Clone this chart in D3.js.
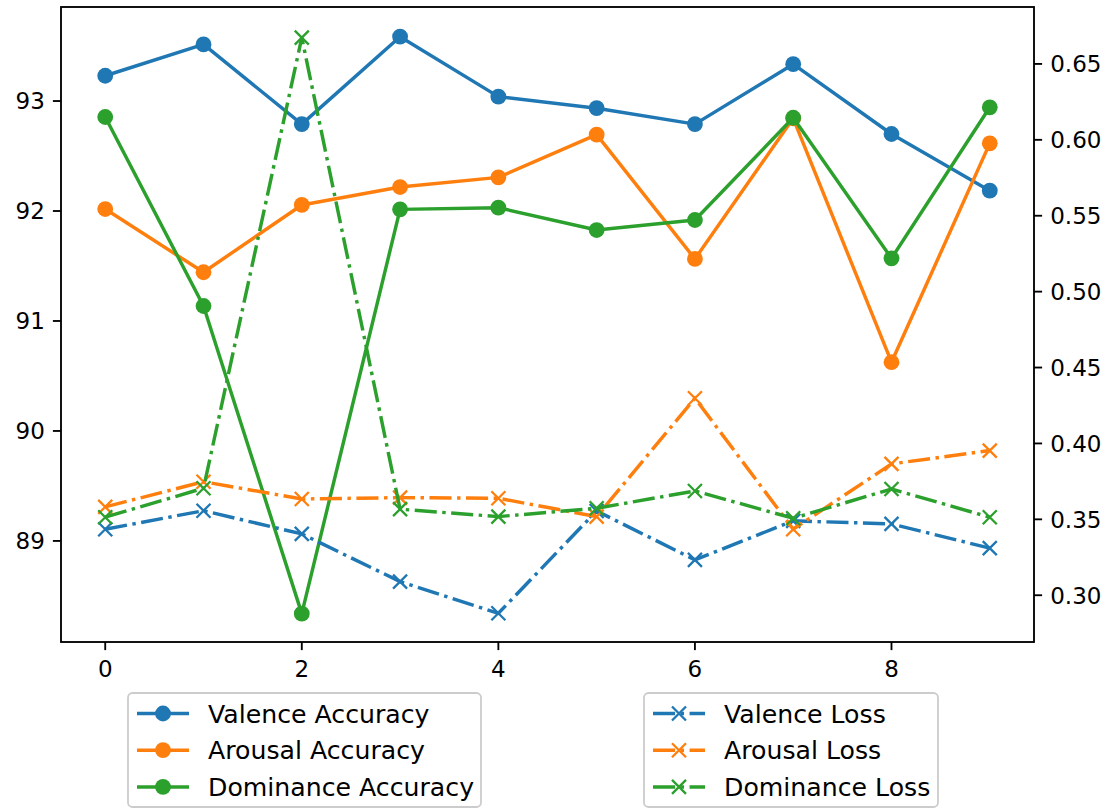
<!DOCTYPE html>
<html>
<head>
<meta charset="utf-8">
<script src="https://cdn.jsdelivr.net/npm/d3@7"></script>
<style>
  html, body { margin: 0; padding: 0; background: #fff; }
  text { font-family: "DejaVu Sans", sans-serif; fill: #000; }
</style>
</head>
<body>
<svg id="chart" width="1114" height="809"></svg>
<script>
const epochs = [0, 1, 2, 3, 4, 5, 6, 7, 8, 9];
const valenceAcc   = [93.23, 93.515, 92.79, 93.585, 93.04, 92.935, 92.79, 93.335, 92.70, 92.185];
const arousalAcc   = [92.018, 91.443, 92.055, 92.218, 92.306, 92.694, 91.564, 92.843, 90.625, 92.615];
const dominanceAcc = [92.855, 91.136, 88.339, 92.015, 92.03, 91.827, 91.918, 92.848, 91.57, 92.943];
const valenceLoss   = [0.3435, 0.3557, 0.3404, 0.309, 0.2881, 0.3555, 0.3233, 0.349, 0.347, 0.331];
const arousalLoss   = [0.3582, 0.3748, 0.3634, 0.3643, 0.3639, 0.3518, 0.4298, 0.3435, 0.3865, 0.3953];
const dominanceLoss = [0.3514, 0.3705, 0.6673, 0.3567, 0.3518, 0.3573, 0.3687, 0.3507, 0.370, 0.3514];
const xTicks = [0, 2, 4, 6, 8];
const leftTicks = [89, 90, 91, 92, 93];
const rightTicks = [0.30, 0.35, 0.40, 0.45, 0.50, 0.55, 0.60, 0.65];
const accNames = ["Valence Accuracy", "Arousal Accuracy", "Dominance Accuracy"];
const lossNames = ["Valence Loss", "Arousal Loss", "Dominance Loss"];
const colors = ["#1f77b4", "#ff7f0e", "#2ca02c"];

const svg = d3.select("#chart");
svg.append("rect").attr("width", 1114).attr("height", 809).attr("fill", "#fff");

const L = 61, R = 1034, T = 7, B = 642;
const x = d3.scaleLinear().domain([-0.45, 9.45]).range([L, R]);
const yL = d3.scaleLinear().domain([88.081, 93.855]).range([B, T]);
const yR = d3.scaleLinear().domain([0.2692, 0.6875]).range([B, T]);

const FS = 23;      // tick labels
const LFS = 25.2;   // legend labels
const LW = 3.45;
const MR = 7.9;     // circle radius incl. edge
const XH = 7.0;     // x-marker half size
const dash = "22.1,5.5,3.45,5.5";

const accSeries = [valenceAcc, arousalAcc, dominanceAcc];
const lossSeries = [valenceLoss, arousalLoss, dominanceLoss];

const plot = svg.append("g");
accSeries.forEach((s, i) => {
  const line = d3.line().x((d, j) => x(epochs[j])).y(d => yL(d));
  plot.append("path").datum(s).attr("d", line).attr("fill", "none")
    .attr("stroke", colors[i]).attr("stroke-width", LW).attr("stroke-linejoin", "round");
  plot.selectAll(null).data(s).enter().append("circle")
    .attr("cx", (d, j) => x(epochs[j])).attr("cy", d => yL(d)).attr("r", MR).attr("fill", colors[i]);
});

function xMark(g, cx, cy, color, h) {
  g.append("path").attr("d", `M${cx - h},${cy - h}L${cx + h},${cy + h}M${cx - h},${cy + h}L${cx + h},${cy - h}`)
    .attr("stroke", color).attr("stroke-width", 2.3).attr("fill", "none");
}
lossSeries.forEach((s, i) => {
  const line = d3.line().x((d, j) => x(epochs[j])).y(d => yR(d));
  plot.append("path").datum(s).attr("d", line).attr("fill", "none")
    .attr("stroke", colors[i]).attr("stroke-width", LW).attr("stroke-dasharray", dash);
  s.forEach((d, j) => xMark(plot, x(epochs[j]), yR(d), colors[i], XH));
});

svg.append("rect").attr("x", L).attr("y", T).attr("width", R - L).attr("height", B - T)
  .attr("fill", "none").attr("stroke", "#000").attr("stroke-width", 1.85);

const TL = 8.1, TW = 1.85;
xTicks.forEach(t => {
  svg.append("line").attr("x1", x(t)).attr("x2", x(t)).attr("y1", B).attr("y2", B + TL)
    .attr("stroke", "#000").attr("stroke-width", TW);
  svg.append("text").attr("x", x(t)).attr("y", B + TL + 8.1 + 19).attr("text-anchor", "middle")
    .attr("font-size", FS).text(t);
});
leftTicks.forEach(t => {
  svg.append("line").attr("x1", L - TL).attr("x2", L).attr("y1", yL(t)).attr("y2", yL(t))
    .attr("stroke", "#000").attr("stroke-width", TW);
  svg.append("text").attr("x", L - TL - 8.1).attr("y", yL(t) + 8.4).attr("text-anchor", "end")
    .attr("font-size", FS).text(t);
});
rightTicks.forEach(t => {
  svg.append("line").attr("x1", R).attr("x2", R + TL).attr("y1", yR(t)).attr("y2", yR(t))
    .attr("stroke", "#000").attr("stroke-width", TW);
  svg.append("text").attr("x", R + TL + 8.1).attr("y", yR(t) + 8.4).attr("text-anchor", "start")
    .attr("font-size", FS).text(t.toFixed(2));
});

function legend(x0, x1, names, isLoss) {
  const g = svg.append("g");
  g.append("rect").attr("x", x0).attr("y", 693).attr("width", x1 - x0).attr("height", 114)
    .attr("rx", 4.5).attr("fill", "#fff").attr("fill-opacity", 0.8)
    .attr("stroke", "#cccccc").attr("stroke-width", 1.8);
  names.forEach((n, i) => {
    const cy = 713.5 + i * 36.7;
    const hx0 = x0 + 9, hx1 = x0 + 61;
    const cx = (hx0 + hx1) / 2;
    const ln = g.append("line").attr("x1", hx0).attr("x2", hx1).attr("y1", cy).attr("y2", cy)
      .attr("stroke", colors[i]).attr("stroke-width", LW);
    if (isLoss) {
      ln.attr("stroke-dasharray", dash);
      xMark(g, cx, cy, colors[i], XH);
    } else {
      g.append("circle").attr("cx", cx).attr("cy", cy).attr("r", MR).attr("fill", colors[i]);
    }
    g.append("text").attr("x", x0 + 80).attr("y", cy + 9.2).attr("font-size", LFS).text(n);
  });
}
legend(128, 481, accNames, false);
legend(644, 938, lossNames, true);
</script>
</body>
</html>
